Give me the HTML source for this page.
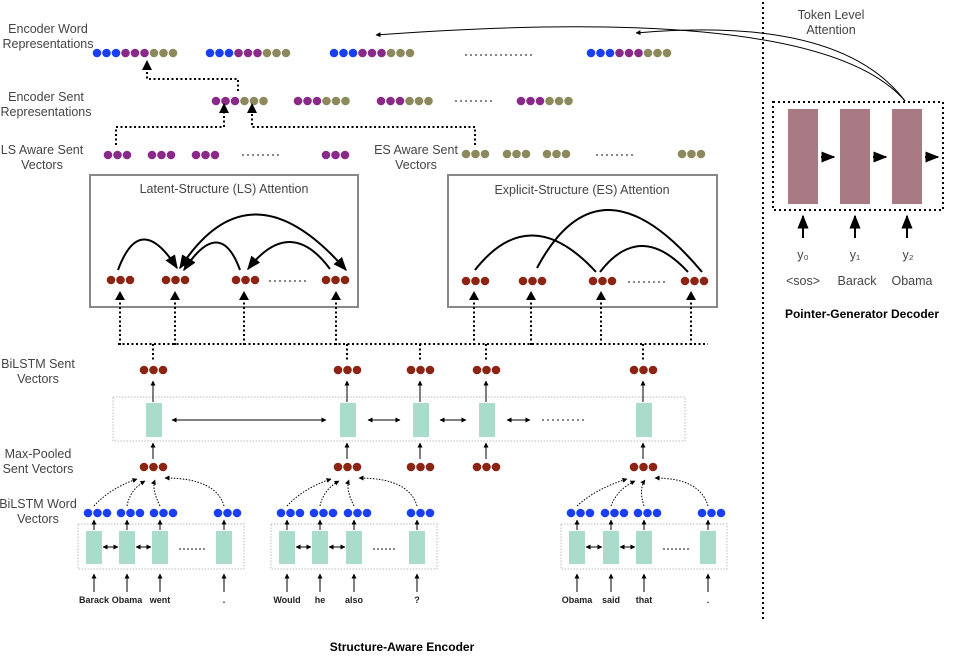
<!DOCTYPE html>
<html><head><meta charset="utf-8"><style>
body{margin:0;background:#fff;}
svg{display:block;font-family:"Liberation Sans",sans-serif;}
.lb{font-size:12.5px;fill:#444;text-anchor:middle;}
.wd{font-size:9px;font-weight:bold;fill:#222;text-anchor:middle;}
</style></head><body>
<svg id="s" width="974" height="656" viewBox="0 0 974 656">
<defs>
<marker id="ah" viewBox="0 0 10 10" refX="9" refY="5" markerWidth="5" markerHeight="5" orient="auto-start-reverse"><path d="M0,0L10,5L0,10z" fill="#000"/></marker>
<marker id="ahs" viewBox="0 0 10 10" refX="9" refY="5" markerWidth="7" markerHeight="7" orient="auto-start-reverse"><path d="M0,1L10,5L0,9z" fill="#000"/></marker>
</defs>
<g id="g"></g>
<g>
<text class="lb" x="48" y="33">Encoder Word</text><text class="lb" x="48" y="48">Representations</text>
<text class="lb" x="46" y="101">Encoder Sent</text><text class="lb" x="46" y="116">Representations</text>
<text class="lb" x="42" y="154">LS Aware Sent</text><text class="lb" x="42" y="169">Vectors</text>
<text class="lb" x="416" y="154">ES Aware Sent</text><text class="lb" x="416" y="169">Vectors</text>
<text class="lb" x="38" y="368">BiLSTM Sent</text><text class="lb" x="38" y="383">Vectors</text>
<text class="lb" x="38" y="458">Max-Pooled</text><text class="lb" x="38" y="473">Sent Vectors</text>
<text class="lb" x="38" y="508">BiLSTM Word</text><text class="lb" x="38" y="523">Vectors</text>
<text class="lb" x="831" y="19">Token Level</text><text class="lb" x="831" y="34">Attention</text>
<text class="lb" x="224" y="193">Latent-Structure (LS) Attention</text>
<text class="lb" x="582" y="194">Explicit-Structure (ES) Attention</text>
<text class="lb" x="803" y="259">y₀</text><text class="lb" x="855" y="259">y₁</text><text class="lb" x="908" y="259">y₂</text>
<text class="lb" x="803" y="285">&lt;sos&gt;</text><text class="lb" x="857" y="285">Barack</text><text class="lb" x="912" y="285">Obama</text>
<text x="862" y="318" style="font-size:12px;font-weight:bold;text-anchor:middle">Pointer-Generator Decoder</text>
<text x="402" y="651" style="font-size:12px;font-weight:bold;text-anchor:middle">Structure-Aware Encoder</text>
</g>
</svg>
<script>
const NS="http://www.w3.org/2000/svg";const G=document.getElementById('g');
function el(t,a,name){const e=document.createElementNS(NS,t);for(const k in a)e.setAttribute(k,a[k]);


G.appendChild(e);return e;}
const B='#1a3ff0',P='#8a2a88',O='#8c8a5c',R='#8b2412',T='#a9dccb',M='#a87a84';
function dots(x,y,cols,name){cols.forEach((c,i)=>el('circle',{cx:x+4+i*9.5,cy:y,r:4.3,fill:c},name));}
function tri(x,y,c,name){dots(x,y,[c,c,c],name);}
function ell(x1,x2,y,name,gap){gap=gap||5;for(let x=x1;x<=x2;x+=gap)el('circle',{cx:x,cy:y,r:0.9,fill:'#333'},name);}
function line(x1,y1,x2,y2,name,o){const a=Object.assign({x1,y1,x2,y2,stroke:'#000','stroke-width':1},o||{});return el('line',a,name);}
function path(d,name,o){return el('path',Object.assign({d,fill:'none',stroke:'#000','stroke-width':1},o||{}),name);}
line(763,2,763,620,'divider',{'stroke-dasharray':'2,3','stroke-width':2});
const WC=[B,B,B,P,P,P,O,O,O];
[93,206,330,587].forEach(x=>dots(x,53,WC,'encoder-word-rep'));
ell(466,531,55,'ellipsis');
const SC=[P,P,P,O,O,O];
[212,294,377,517].forEach(x=>dots(x,101,SC,'encoder-sent-rep'));
ell(456,495,101,'ellipsis');
[104,148,192,322].forEach(x=>tri(x,155,P,'ls-aware-sent'));ell(243,282,155,'ellipsis');
[462,503,543,678].forEach(x=>tri(x,154,O,'es-aware-sent'));ell(597,636,155,'ellipsis');
const dd={'stroke-dasharray':'2,2.5','stroke-width':2};
path('M116,145V127H224V112','ls-to-sent',dd);el('path',{d:'M219,113L224,103L229,113z'},'arrow');
path('M475,145V127H252V112','es-to-sent',dd);el('path',{d:'M247,113L252,103L257,113z'},'arrow');
path('M238,91V79H147V69','sent-to-word',dd);el('path',{d:'M142,70L147,60L152,70z'},'arrow');
el('rect',{x:90,y:175,width:268,height:132,fill:'none',stroke:'#888','stroke-width':2},'ls-attention-box');
el('rect',{x:448,y:175,width:269,height:132,fill:'none',stroke:'#888','stroke-width':2},'es-attention-box');
const LSX=[107,162,232,322],ESX=[462,519,589,681];
LSX.forEach(x=>tri(x,280,R,'ls-node'));ESX.forEach(x=>tri(x,281,R,'es-node'));
ell(270,306,281,'ellipsis');ell(629,665,282,'ellipsis');
const aw={'stroke-width':2,'marker-end':'url(#ahs)'};
path('M118,270Q140,210 177,268','ls-edge',aw);
path('M240,270Q220,215 184,270','ls-edge',aw);
path('M330,269Q290,215 248,269','ls-edge',aw);
path('M180,268Q250,160 346,270','ls-edge',{'stroke-width':2,'marker-start':'url(#ahs)','marker-end':'url(#ahs)'});
path('M475,270Q530,200 596,272','es-edge',{'stroke-width':2});
path('M537,268Q600,150 702,272','es-edge',{'stroke-width':2});
path('M600,272Q640,220 688,272','es-edge',{'stroke-width':2});
[[120,345],[175,345],[244,345],[336,345],[474,345],[531,345],[601,345],[691,345]].forEach(([x,y])=>{
 line(x,y,x,300,'attention-input',dd);el('path',{d:`M${x-5},300L${x},291L${x+5},300z`},'arrow');});
line(118,344,708,344,'dotted-bus',dd);
const SX=[140,334,407,473,630];
SX.forEach(x=>line(x+13,344,x+13,362,'bus-drop',dd));
SX.forEach(x=>tri(x,370,R,'bilstm-sent-vec'));
el('rect',{x:113,y:397,width:572,height:44,fill:'none',stroke:'#bbb','stroke-dasharray':'1.5,1.5'},'bilstm-sent-box');
SX.forEach(x=>{el('rect',{x:x+6,y:403,width:16,height:34,fill:T},'bilstm-sent-cell');
 line(x+13,402,x+13,381,'arrow-up',{'marker-end':'url(#ah)'});
 line(x+13,459,x+13,443,'arrow-up',{'marker-end':'url(#ah)'});
 tri(x,467,R,'max-pooled-vec');});
[[172,326],[368,400],[440,466],[507,530]].forEach(([a,b])=>line(a,420,b,420,'bidir-arrow',{'marker-start':'url(#ah)','marker-end':'url(#ah)'}));
ell(543,583,420,'ellipsis');
const groups=[{bx:78,cells:[86,119,152,216],words:['Barack','Obama','went','.'],mx:140},
 {bx:271,cells:[279,312,346,409],words:['Would','he','also','?'],mx:334},
 {bx:561,cells:[569,603,636,700],words:['Obama','said','that','.'],mx:630}];
groups.forEach(g=>{
 el('rect',{x:g.bx,y:524,width:166,height:45,fill:'none',stroke:'#bbb','stroke-dasharray':'1.5,1.5'},'bilstm-word-box');
 const tg=[[g.mx-3,479],[g.mx+5,481],[g.mx+15,480],[g.mx+25,478]];
 g.cells.forEach((cx,i)=>{el('rect',{x:cx,y:531,width:16,height:33,fill:T},'bilstm-word-cell');
  tri(cx-2,513,B,'word-vec');
  line(cx+8,530,cx+8,520,'arrow-up',{'marker-end':'url(#ah)'});
  line(cx+8,592,cx+8,574,'arrow-up',{'marker-end':'url(#ah)'});
  const t=el('text',{x:cx+8,y:603,class:'wd'},'input-word');t.textContent=g.words[i];
  const [tx,ty]=tg[i];const sx=cx+8,sy=506;
  const qx=i==3?sx-8:(sx+tx)/2-6, qy=i==3?ty:(sy+ty)/2-4;
  path(`M${sx},${sy}Q${qx},${qy} ${tx},${ty}`,'pool-link',{'stroke-dasharray':'1.5,1.5','marker-end':'url(#ah)'});
 });
 line(g.cells[0]+17,547,g.cells[1]-1,547,'bidir-arrow',{'marker-start':'url(#ah)','marker-end':'url(#ah)'});
 line(g.cells[1]+17,547,g.cells[2]-1,547,'bidir-arrow',{'marker-start':'url(#ah)','marker-end':'url(#ah)'});
 ell(g.cells[2]+28,g.cells[3]-12,549,'ellipsis',4);
});
el('rect',{x:773,y:102,width:170,height:108,fill:'none',stroke:'#000','stroke-width':2,'stroke-dasharray':'2,3'},'decoder-box');
[788,840,892].forEach((x,i)=>{el('rect',{x,y:109,width:30,height:95,fill:M},'decoder-cell');
 line(x+15,238,x+15,216,'decoder-input-arrow',{'stroke-width':2,'marker-end':'url(#ahs)'});
 line(x+33,157,x+46,157,'decoder-arrow',{'stroke-width':2,'marker-end':'url(#ahs)'});});
path('M905,101Q840,15 636,33','token-attention',{'marker-end':'url(#ah)'});
path('M905,101Q820,2 376,35','token-attention',{'marker-end':'url(#ah)'});
</script>
</body></html>
